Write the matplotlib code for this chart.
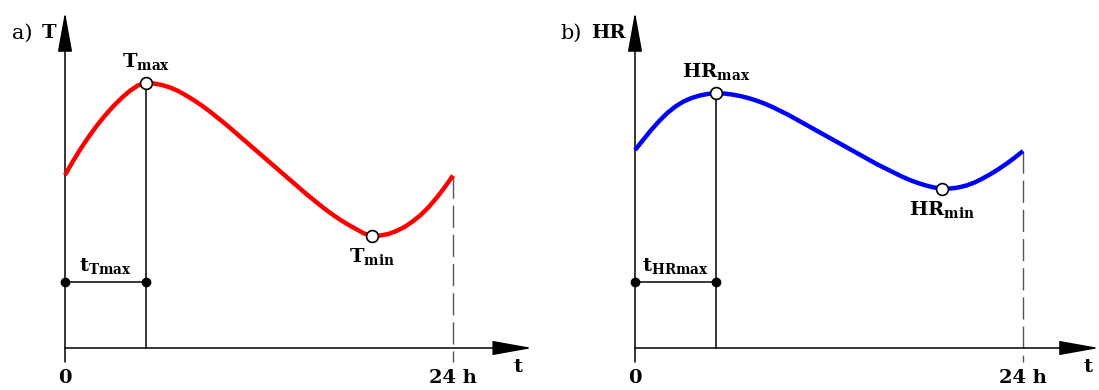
import numpy as np
import matplotlib
matplotlib.use("Agg")
import matplotlib.pyplot as plt

plt.rcParams['font.family'] = ['DejaVu Serif']
plt.rcParams['mathtext.fontset'] = 'custom'
plt.rcParams['mathtext.rm'] = 'DejaVu Serif'
plt.rcParams['mathtext.bf'] = 'DejaVu Serif:bold'

# daily course, one value per half hour (arbitrary units)
hours = np.arange(0, 24.5, 0.5)
temp = [173, 187, 200, 212, 223, 233, 242, 250, 257, 262.5,
        265, 264.5, 263, 260.5, 257, 252.5, 247.5, 242, 236, 229.5,
        223, 216, 209, 202, 195, 188, 181, 174, 167, 160,
        153, 146.5, 140, 134, 128.5, 123.5, 119, 114.5, 112, 112.5,
        114, 117, 121, 126.5, 133, 141, 150.5, 161, 172.5]
hum = [198, 208, 218, 227, 235, 241.5, 246.5, 250, 252.5, 254,
       255, 254.5, 253.5, 252, 250, 247.5, 244.5, 241, 237, 233,
       228.5, 224, 219.5, 215, 210.5, 206, 201.5, 197, 192.5, 188,
       183.5, 179.5, 175.5, 171.5, 168, 165, 162.5, 160.5, 159.5, 159.5,
       160.5, 162.5, 165.5, 169.5, 174, 179, 184.5, 190.5, 197]
t_level = [66, 66]  # height of the t_max bracket

panels = [
    dict(tag='a)', name='T', y=temp, color='#ff0000',
         maxlab=r'$\mathbf{T_{max}}$', minlab=r'$\mathbf{T_{min}}$',
         tlab=r'$\mathbf{t_{Tmax}}$', left=0, right=560, x0=65,
         tagx=-3.3, tip=28.9),
    dict(tag='b)', name='HR', y=hum, color='#0000ff',
         maxlab=r'$\mathbf{HR_{max}}$', minlab=r'$\mathbf{HR_{min}}$',
         tlab=r'$\mathbf{t_{HRmax}}$', left=560, right=1099, x0=635,
         tagx=-4.6, tip=28.7),
]

W, H = 1099, 390
k = 388 / 24.0  # pixels per hour
fig = plt.figure(figsize=(W / 100, H / 100), dpi=100)

for p in panels:
    ax = fig.add_axes([p['left'] / W, 0, (p['right'] - p['left']) / W, 1])
    ax.set_xlim((p['left'] - p['x0']) / k, (p['right'] - p['x0']) / k)
    ax.set_ylim(-42, 348)
    ax.axis('off')
    y = np.array(p['y'])
    imax, imin = int(np.argmax(y)), int(np.argmin(y))

    # axes with arrow heads
    arr = dict(arrowstyle='-|>,head_length=2.5,head_width=0.45',
               mutation_scale=10, lw=1.1, color='black',
               shrinkA=0, shrinkB=0)
    ax.annotate('', xy=(0, 336), xytext=(0, -14), arrowprops=arr,
                annotation_clip=False)
    ax.annotate('', xy=(p['tip'], 0), xytext=(0, 0), arrowprops=arr,
                annotation_clip=False)

    # 24 h dashed line
    ax.plot([24, 24], [y[-1], -14], color='#555555', lw=1.0,
            dashes=(16, 5), zorder=1)

    # drop line from the maximum and the t_max bracket
    ax.plot([hours[imax], hours[imax]], [y[imax], 0], color='black', lw=1.1)
    ax.plot([0, hours[imax]], t_level, color='black', lw=1.1,
            marker='o', ms=6, mfc='black', mec='black')

    ax.plot(hours, y, color=p['color'], lw=3.2, solid_capstyle='butt',
            solid_joinstyle='round', zorder=3)
    ax.plot([hours[imax], hours[imin]], [y[imax], y[imin]], ls='none',
            marker='o', ms=8.5, mfc='white', mec='black', mew=1.2, zorder=4)

    # texts
    fs = 14
    ax.text(p['tagx'], 315, p['tag'], fontsize=15, ha='left', va='center')
    ax.text(-0.55, 315, p['name'], fontsize=fs, fontweight='bold',
            ha='right', va='center')
    ax.text(hours[imax], y[imax] + 11, p['maxlab'], fontsize=fs,
            ha='center', va='bottom')
    ax.text(hours[imin], y[imin] - 10, p['minlab'], fontsize=fs,
            ha='center', va='top')
    ax.text(hours[imax] / 2, t_level[0] + 6, p['tlab'], fontsize=fs,
            ha='center', va='bottom')
    ax.text(0, -30, '0', fontsize=fs, fontweight='bold', ha='center',
            va='center')
    ax.text(24, -30, '24 h', fontsize=fs, fontweight='bold', ha='center',
            va='center')
    ax.text(28.0, -19, 't', fontsize=fs, fontweight='bold', ha='center',
            va='center')

fig.savefig('out.png', dpi=100)
